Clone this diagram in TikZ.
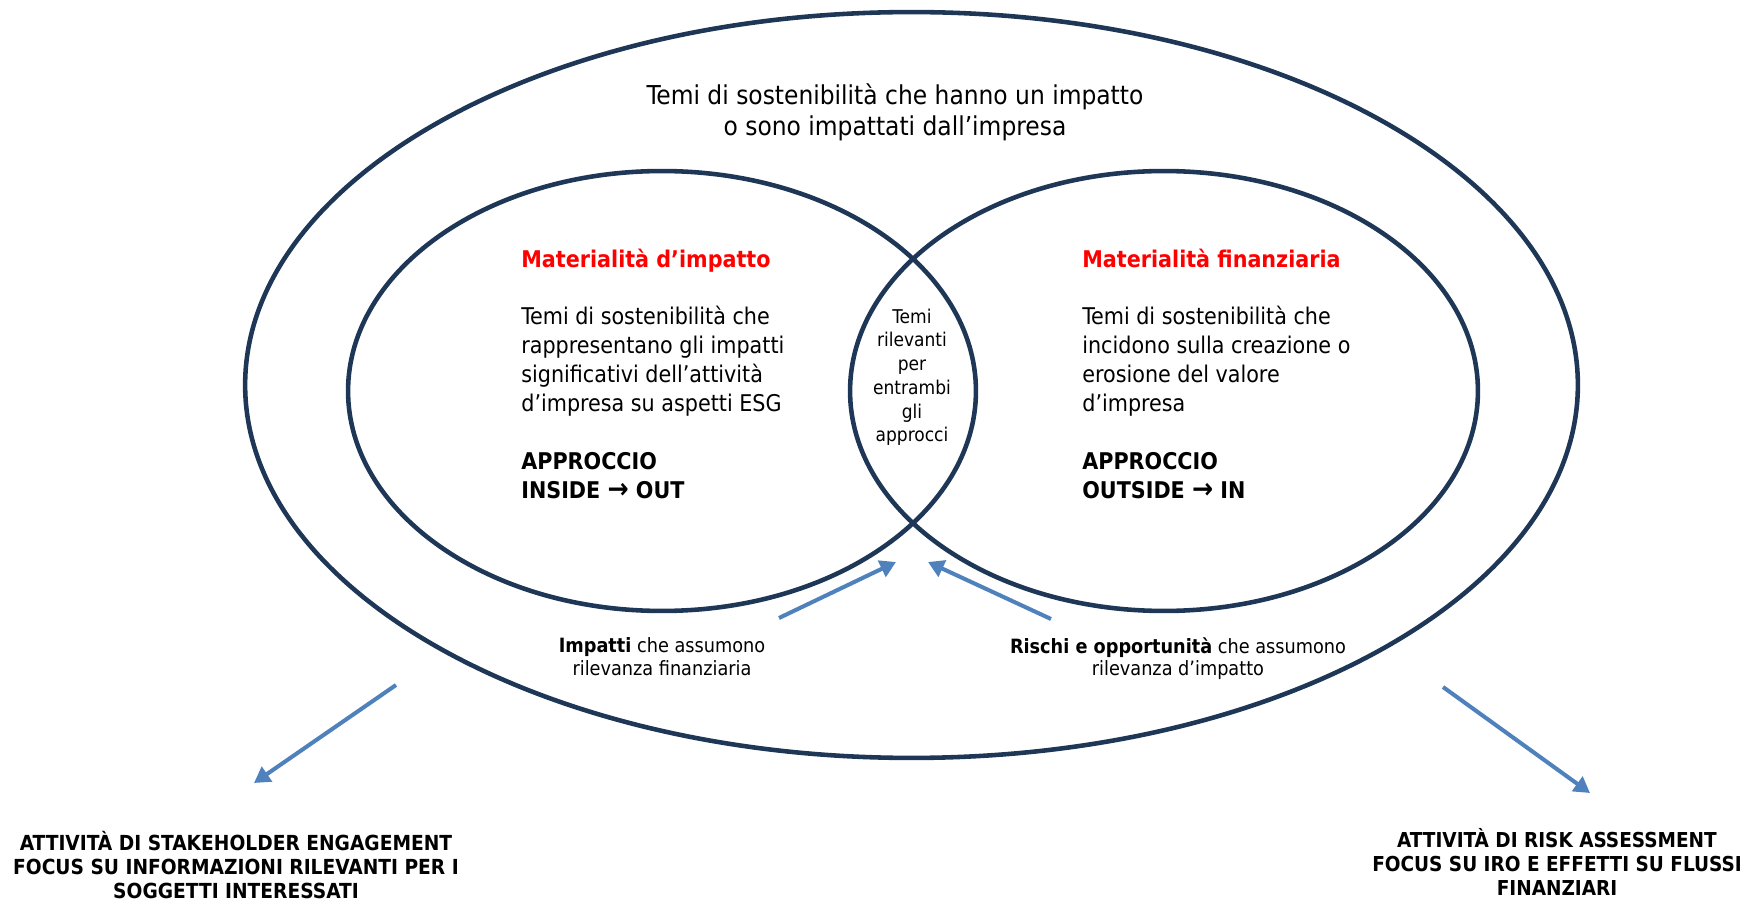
\documentclass[tikz,border=0pt]{standalone}
\usepackage{fontspec}
\setmainfont{DejaVu Sans Condensed}
\usepackage{xcolor}
\usepackage{tikz}
\usetikzlibrary{shapes.geometric, arrows.meta, positioning}
\definecolor{ringnavy}{RGB}{31, 55, 86}
\definecolor{flowblue}{RGB}{79, 129, 189}
\definecolor{matred}{RGB}{255, 0, 0}
\newcommand{\bigto}{{\fontsize{16}{16}\selectfont →}}

\begin{document}
\begin{tikzpicture}[
        x=0.02cm, y=0.02cm,
        ring/.style={ellipse, draw=ringnavy, line width=2.6pt, inner sep=0pt},
        txt/.style={inner sep=0pt, font=\fontsize{13.1}{16.44}\selectfont, align=left},
        flow/.style={-{Triangle[length=9pt, width=10pt]}, draw=flowblue, line width=2.3pt}
    ]
        \useasboundingbox (0,0) rectangle (1754,900);

        % Rings
        \node[ring, minimum width=26.66cm, minimum height=14.92cm] (outer) at (911.5,515) {};
        \node[ring, minimum width=12.56cm, minimum height=8.8cm] (impact) at (662,509) {};
        \node[ring, minimum width=12.56cm, minimum height=8.8cm] (finance) at (1164,509) {};

        % Texts inside
        \node[txt, align=center, font=\fontsize{14.8}{17.6}\selectfont, anchor=north] (topText) at (895,817) {Temi di sostenibilità che hanno un impatto\\o sono impattati dall’impresa};
        \node[txt, anchor=north west] (impText) at (521,651.6) {\textcolor{matred}{\textbf{Materialità d’impatto}}\\[16.44pt]
            Temi di sostenibilità che\\rappresentano gli impatti\\significativi dell’attività\\d’impresa su aspetti ESG\\[16.44pt]
            \textbf{APPROCCIO}\\\textbf{INSIDE \bigto{} OUT}};
        \node[txt, anchor=north west] (finText) at (1082,651.6) {\textcolor{matred}{\textbf{Materialità finanziaria}}\\[16.44pt]
            Temi di sostenibilità che\\incidono sulla creazione o\\erosione del valore\\d’impresa\\[16.44pt]
            \textbf{APPROCCIO}\\\textbf{OUTSIDE \bigto{} IN}};
        \node[txt, align=center, font=\fontsize{10.8}{13.5}\selectfont, anchor=north] (bothText) at (912,591.5) {Temi\\rilevanti\\per\\entrambi\\gli\\approcci};

        % Notes
        \node[txt, align=center, font=\fontsize{11.2}{13}\selectfont, anchor=north] (impNote) at (662,263) {\textbf{Impatti} che assumono\\rilevanza finanziaria};
        \node[txt, align=center, font=\fontsize{11.2}{13}\selectfont, anchor=north] (riskNote) at (1178,263) {\textbf{Rischi e opportunità} che assumono\\rilevanza d’impatto};

        % Activities
        \node[txt, align=center, font=\bfseries\fontsize{11.8}{13.6}\selectfont, anchor=north] (engText) at (236,69) {ATTIVITÀ DI STAKEHOLDER ENGAGEMENT\\FOCUS SU INFORMAZIONI RILEVANTI PER I\\SOGGETTI INTERESSATI};
        \node[txt, align=center, font=\bfseries\fontsize{11.7}{13.6}\selectfont, anchor=north] (assText) at (1557,72) {ATTIVITÀ DI RISK ASSESSMENT\\FOCUS SU IRO E EFFETTI SU FLUSSI\\FINANZIARI};

        % Arrows
        \coordinate (impTail) at (779,282);
        \coordinate (impTip) at (896,338);
        \coordinate (riskTail) at (1051,281);
        \coordinate (riskTip) at (928,338);
        \coordinate (engTail) at (396,215);
        \coordinate (engTip) at (254,117);
        \coordinate (assTail) at (1443,213);
        \coordinate (assTip) at (1590,107);
        \draw[flow] (impTail) -- (impTip);
        \draw[flow] (riskTail) -- (riskTip);
        \draw[flow] (engTail) -- (engTip);
        \draw[flow] (assTail) -- (assTip);
    \end{tikzpicture}
\end{document}
